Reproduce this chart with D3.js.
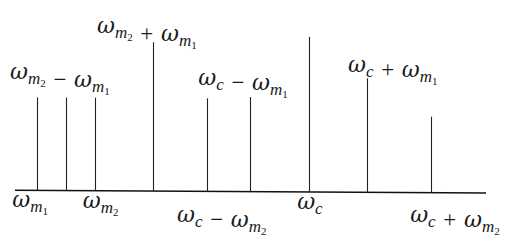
<!DOCTYPE html>
<html>
<head>
<meta charset="utf-8">
<script src="https://cdn.jsdelivr.net/npm/d3@7"></script>
<style>
  html, body { margin: 0; padding: 0; background: #fff; }
  svg { display: block; }
</style>
</head>
<body>
<div class="chart"></div>
<script>
// spectral lines: frequency (arbitrary units) and relative amplitude
const freqs = [4.7, 10.8, 17.0, 29.3, 40.8, 49.9, 62.4, 74.7, 88.3];
const amps = [0.60, 0.60, 0.60, 0.96, 0.60, 0.61, 1.0, 0.735, 0.49];

// labels: omega terms [subscript, subscript digit] joined by an operator
const labelTerms = [
  [['m', '2'], '+', ['m', '1']],
  [['m', '2'], '\u2212', ['m', '1']],
  [['c', ''], '\u2212', ['m', '1']],
  [['c', ''], '+', ['m', '1']],
  [['m', '1']],
  [['m', '2']],
  [['c', ''], '\u2212', ['m', '2']],
  [['c', '']],
  [['c', ''], '+', ['m', '2']]
];
const labelFreq = [17.4, -1.06, 38.9, 70.7, -0.6, 14.4, 34.4, 59.9, 83.9];
const labelLevel = [1.02, 0.716, 0.685, 0.775, -0.11, -0.11, -0.2, -0.11, -0.19];

const width = 512, height = 243;

const svg = d3.select('.chart')
  .append('svg')
  .attr('width', width)
  .attr('height', height);

const xScale = d3.scaleLinear().domain([0, 100]).range([15, 486]);
const yScale = d3.scaleLinear().domain([0, 1]).range([0, 155]);
// the axis in the drawing is very slightly tilted
const baseY = d3.scaleLinear().domain([0, 100]).range([190.2, 193]);

// axis line
svg.append('line')
  .attr('x1', xScale(0))
  .attr('x2', xScale(100))
  .attr('y1', baseY(0))
  .attr('y2', baseY(100))
  .style('stroke', '#111')
  .style('stroke-width', 1.6);

svg.selectAll('.spike')
  .data(freqs)
  .enter()
  .append('line')
  .classed('spike', true)
  .attr('x1', d => Math.round(xScale(d)) + 0.5)
  .attr('x2', d => Math.round(xScale(d)) + 0.5)
  .attr('y1', d => baseY(d))
  .attr('y2', (d, i) => baseY(d) - yScale(amps[i]))
  .style('stroke', '#222')
  .style('stroke-width', 1.1);

const labels = svg.selectAll('.label')
  .data(labelTerms)
  .enter()
  .append('text')
  .classed('label', true)
  .attr('x', (d, i) => xScale(labelFreq[i]))
  .attr('y', (d, i) => baseY(labelFreq[i]) - yScale(labelLevel[i]))
  .style('font-family', '"Liberation Serif", serif')
  .style('font-size', '24px')
  .style('fill', '#1a1a1a');

labels.each(function (terms) {
  const t = d3.select(this);
  terms.forEach(term => {
    if (typeof term === 'string') {
      t.append('tspan').text('\u2004' + term + '\u2004').style('font-size', '23px');
      return;
    }
    t.append('tspan')
      .text('\u03c9')
      .style('font-family', '"DejaVu Serif", serif')
      .style('font-style', 'italic')
      .style('font-size', '22px');
    t.append('tspan')
      .attr('dy', 5)
      .style('font-size', '17px')
      .style('font-style', 'italic')
      .text(term[0]);
    if (term[1]) {
      t.append('tspan')
        .attr('dy', 3)
        .style('font-size', '11px')
        .text(term[1]);
      t.append('tspan').attr('dy', -8).text('');
    } else {
      t.append('tspan').attr('dy', -5).text('');
    }
  });
});
</script>
</body>
</html>
